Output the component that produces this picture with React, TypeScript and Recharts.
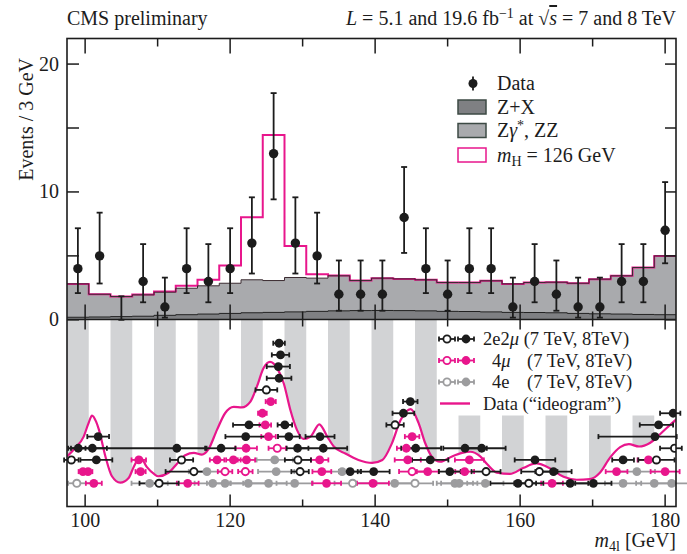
import React from 'react'
import { ComposedChart, Area, Line, Scatter, ErrorBar, XAxis, YAxis } from 'recharts'

// ---------- top panel: 3 GeV bins from 97.5 to 181.5 ----------
const BIN_WIDTH = 3
const binCenters = [99, 102, 105, 108, 111, 114, 117, 120, 123, 126, 129, 132, 135, 138, 141, 144, 147, 150, 153, 156, 159, 162, 165, 168, 171, 174, 177, 180]
const dataCounts = [4, 5, 0, 3, 1, 4, 3, 4, 6, 13, 6, 5, 2, 2, 2, 8, 4, 2, 4, 4, 1, 3, 2, 1, 1, 3, 3, 7]
const dataErrLow = [1.91, 2.16, 0, 1.63, 0.83, 1.91, 1.63, 1.91, 2.38, 3.58, 2.38, 2.16, 1.29, 1.29, 1.29, 2.77, 1.91, 1.29, 1.91, 1.91, 0.83, 1.63, 1.29, 0.83, 0.83, 1.63, 1.63, 2.58]
const dataErrHigh = [3.16, 3.38, 1.84, 2.92, 2.3, 3.16, 2.92, 3.16, 3.58, 4.73, 3.58, 3.38, 2.64, 2.64, 2.64, 3.95, 3.16, 2.64, 3.16, 3.16, 2.3, 2.92, 2.64, 2.3, 2.3, 2.92, 2.92, 3.77]
const zxBkg = [0.2, 0.22, 0.25, 0.28, 0.35, 0.4, 0.45, 0.5, 0.55, 0.58, 0.62, 0.66, 0.7, 0.72, 0.73, 0.72, 0.7, 0.66, 0.65, 0.62, 0.58, 0.57, 0.55, 0.5, 0.47, 0.45, 0.42, 0.4]
const zzBkg = [2.61, 1.78, 1.57, 1.67, 1.81, 2.07, 2.21, 2.36, 2.58, 2.49, 2.69, 2.6, 2.74, 2.35, 2.53, 2.48, 2.43, 2.26, 2.27, 2.43, 2.23, 2.35, 2.39, 2.36, 2.71, 2.99, 3.67, 4.6]
const higgs126 = [0, 0, 0, 0.03, 0.06, 0.19, 0.47, 1.38, 4.89, 11.38, 2.47, 0.31, 0.03, 0.01, 0, 0, 0, 0, 0, 0, 0, 0, 0, 0, 0, 0, 0, 0]

// ---------- bottom panel: ideogram + single events ----------
const ideoMass = [97.5, 98.6, 99.8, 100.5, 100.95, 101.5, 101.9, 102.8, 103.7, 104.85, 106.0, 106.7, 107.6, 108.5, 109.5, 110.1, 111.5, 112.7, 113.8, 115.0, 116.1, 117.0, 118.2, 119.3, 120.5, 121.6, 122.8, 123.7, 124.6, 125.5, 126.5, 127.4, 128.3, 129.2, 130.1, 131.1, 132.3, 133.4, 134.3, 135.9, 137.7, 139.6, 141.0, 142.3, 143.5, 144.9, 146.0, 146.9, 147.8, 149.0, 150.6, 152.0, 153.1, 154.5, 155.5, 156.8, 158.6, 160.4, 162.2, 164.2, 166.0, 167.8, 169.6, 171.0, 172.4, 173.8, 175.0, 176.4, 177.9, 179.3, 180.5, 181.5]
const ideoLevel = [2.3, 3.0, 4.0, 5.2, 5.8, 5.3, 4.6, 2.3, 0.6, 0.05, 0.45, 1.4, 2.25, 1.4, 0.8, 0.6, 0.9, 1.7, 2.4, 2.6, 2.45, 2.9, 4.6, 6.0, 6.55, 6.5, 7.0, 8.3, 9.85, 10.4, 9.85, 8.55, 6.3, 4.6, 3.8, 4.0, 5.05, 4.0, 3.15, 2.55, 2.0, 1.75, 2.0, 3.4, 5.4, 6.35, 5.15, 3.45, 2.3, 1.85, 2.3, 2.6, 2.7, 2.3, 1.6, 0.9, 0.8, 1.3, 1.7, 1.25, 0.55, 0.3, 0.35, 0.9, 2.2, 3.1, 3.35, 3.15, 3.45, 4.2, 4.9, 5.45]

// [mass, row, errLow, errHigh]
const ev2e2mu8TeV = [
  [159.7, 0, 3.8, 2.5], [166.9, 0, 2.5, 2.5], [170.1, 0, 2.5, 2.5],
  [136.55, 1, 1.5, 1.5], [139.8, 1, 2.2, 2.2], [150.3, 1, 1.5, 1.5], [164.6, 1, 2.5, 2.5],
  [101.55, 2, 2.2, 2.2], [147.6, 2, 2.5, 2.5], [162.05, 2, 2.8, 2.8], [174.2, 2, 1.5, 1.5],
  [99.05, 3, 1, 1], [101.0, 3, 2, 2], [112.65, 3, 15, 3.9], [118.75, 3, 2, 2], [129.3, 3, 1.5, 1.5], [132.85, 3, 3.3, 3.3], [145.6, 3, 2, 3.5], [152.4, 3, 3, 3], [154.7, 3, 2.5, 3.3],
  [101.8, 4, 1.5, 1.5], [122.15, 4, 2.8, 2.8], [128.1, 4, 1.5, 1.5], [132.4, 4, 2, 2], [178.6, 4, 7.8, 3],
  [122.6, 5, 2.2, 2.2], [127.55, 5, 1, 1], [179.1, 5, 2.6, 2],
  [143.9, 6, 1.5, 1.5], [181.1, 6, 1.8, 1],
  [144.85, 7, 1, 1],
  [126.75, 9, 1.7, 1.7], [126.65, 10, 1.6, 1.6], [126.95, 11, 1.2, 1.2], [126.75, 12, 0.8, 0.8],
]
const ev2e2mu7TeV = [
  [110.2, 0, 2.7, 2.7], [161.2, 0, 2, 2],
  [115.0, 1, 3.9, 1.5], [129.65, 1, 1.2, 1.2], [155.3, 1, 2, 2], [162.65, 1, 2.5, 2.5],
  [98.1, 2, 1, 1], [113.3, 2, 1.6, 1.6], [129.35, 2, 1.8, 1.8], [178.8, 2, 2.5, 2.5],
  [181.3, 3, 2, 1], [142.75, 5, 1.2, 1.2], [125.0, 8, 1.5, 1.5],
]
const ev4mu8TeV = [
  [101.2, 0, 1.1, 1.1], [114.15, 0, 1.5, 1.5], [133.3, 0, 2, 2], [139.7, 0, 2.2, 2.2], [164.4, 0, 1.5, 1.5],
  [99.7, 1, 0.6, 0.6], [100.4, 1, 0.6, 0.6], [107.65, 1, 0.7, 0.7], [132.65, 1, 1.3, 1.3], [147.25, 1, 1.5, 1.5], [152.35, 1, 1.3, 1.3], [173.3, 1, 1.5, 1.5], [180.0, 1, 2, 2],
  [107.4, 2, 1, 1], [118.2, 2, 1, 1], [120.45, 2, 1, 1], [122.25, 2, 1.2, 1.2], [132.35, 2, 1.2, 1.2], [144.5, 2, 1.8, 1.8], [153.0, 2, 2, 2], [177.7, 2, 1.5, 1.5],
  [122.2, 3, 1.5, 1.5], [144.3, 3, 1.3, 1.3],
  [125.3, 4, 1, 1], [145.1, 4, 1, 1],
  [124.85, 5, 0.8, 0.8], [124.45, 6, 0.6, 0.6], [125.6, 7, 0.7, 0.7],
]
const ev4mu7TeV = [
  [119.3, 1, 1, 1], [122.1, 1, 1, 1], [145.1, 1, 1.8, 1.8], [126.5, 3, 1.2, 1.2],
]
const ev4e8TeV = [
  [108.9, 0, 2.5, 2.5], [117.6, 0, 2.5, 2.5], [119.3, 0, 2.5, 2.5], [122.5, 0, 2.5, 2.5], [125.3, 0, 2.5, 2.5], [128.9, 0, 2.5, 2.5],
  [142.7, 0, 2.5, 2.5], [151.0, 0, 2.5, 2.5], [151.6, 0, 2.5, 2.5], [155.2, 0, 2.5, 2.5], [174.2, 0, 2.5, 2.5], [178.5, 0, 2.5, 2.5], [180.9, 0, 2.5, 2.5],
  [116.8, 1, 2.5, 2.5], [126.35, 1, 2.5, 2.5], [135.45, 1, 2.5, 2.5], [176.1, 1, 2.5, 2.5],
  [126.15, 2, 2.5, 2.5],
]
const ev4e7TeV = [
  [98.85, 0, 1.2, 2.5], [136.9, 0, 2.5, 2.5], [145.5, 0, 2.5, 2.5],
]

// ---------- layout ----------
const W = 687
const H = 554
const PLOT_LEFT = 67
const PLOT_RIGHT = 676
const PLOT_TOP = 38.5
const PLOT_BOTTOM = 506.5
const DIVIDER = 319.5
const X_DOMAIN: [number, number] = [97.5, 181.5]
const EV_DOMAIN: [number, number] = [-14.6, 22]
const ROW_DOMAIN: [number, number] = [-1.99, 38.11]
const ROW_DIVIDER = 14.04
const LEGEND_BOX_BOTTOM = 5.8
const LEGEND_BOX_LEFT = 148.5

const PINK = '#e8168c'
const BLACK = '#1c1c1c'
const GREY = '#9c9c9e'
const FONT = '"Liberation Serif", "DejaVu Serif", serif'
const FS = 20
const LFS = 18.5

const binEdges = [...binCenters.map(c => c - BIN_WIDTH / 2), binCenters[binCenters.length - 1] + BIN_WIDTH / 2]
const histRows = binEdges.map((m, i) => {
  const k = Math.min(i, binCenters.length - 1)
  const bkg = zxBkg[k] + zzBkg[k]
  // grey stripes every other bin; the white legend box cuts them off at the top right
  const stripeTop = m >= LEGEND_BOX_LEFT ? LEGEND_BOX_BOTTOM : ROW_DIVIDER
  return {
    m,
    zx: zxBkg[k],
    bkg,
    total: bkg + higgs126[k],
    stripe: i % 2 === 0 && i < binCenters.length ? stripeTop : ROW_DOMAIN[0],
  }
})
const dataPoints = binCenters.map((m, i) => ({ m, n: dataCounts[i], err: [dataErrLow[i], dataErrHigh[i]] }))
const ideogramRows = ideoMass.map((m, i) => ({ m, level: ideoLevel[i] }))
const toRows = (list: number[][]) => list.map(([m, row, lo, hi]) => ({ m, row, err: [lo, hi] }))

const eventSeries = [
  { name: '4e 8TeV', data: toRows(ev4e8TeV), color: GREY, open: false },
  { name: '4e 7TeV', data: toRows(ev4e7TeV), color: GREY, open: true },
  { name: '4mu 8TeV', data: toRows(ev4mu8TeV), color: PINK, open: false },
  { name: '4mu 7TeV', data: toRows(ev4mu7TeV), color: PINK, open: true },
  { name: '2e2mu 8TeV', data: toRows(ev2e2mu8TeV), color: BLACK, open: false },
  { name: '2e2mu 7TeV', data: toRows(ev2e2mu7TeV), color: BLACK, open: true },
]

const MassTick = ({ x, payload }: any) => {
  const v = payload.value
  const major = v % 20 === 0
  return (
    <g stroke={BLACK} strokeWidth={1.5}>
      <line x1={x} x2={x} y1={PLOT_BOTTOM} y2={PLOT_BOTTOM - (major ? 12 : 7)} />
      <line x1={x} x2={x} y1={DIVIDER - (major ? 15 : 8)} y2={DIVIDER + (major ? 10 : 7)} />
      <line x1={x} x2={x} y1={PLOT_TOP} y2={PLOT_TOP + (major ? 15 : 8)} />
      {major && (
        <text x={x} y={527} textAnchor="middle" stroke="none" fill={BLACK} fontSize={FS} fontFamily={FONT}>
          {v}
        </text>
      )}
    </g>
  )
}

const EventTick = ({ y, payload }: any) => {
  const v = payload.value
  return (
    <g stroke={BLACK} strokeWidth={1.5}>
      <line x1={PLOT_LEFT} x2={PLOT_LEFT + 12} y1={y} y2={y} />
      <line x1={PLOT_RIGHT - 11} x2={PLOT_RIGHT} y1={y} y2={y} />
      {v % 10 === 0 && (
        <text x={59} y={y + 6.5} textAnchor="end" stroke="none" fill={BLACK} fontSize={FS} fontFamily={FONT}>
          {v}
        </text>
      )}
    </g>
  )
}

const DataDot = (props: any) => {
  if (!props.payload || props.payload.n === 0) return <g />
  return <circle cx={props.cx} cy={props.cy} r={4.7} fill={BLACK} />
}

const eventDot = (color: string, open: boolean) => (props: any) =>
  open ? (
    <circle cx={props.cx} cy={props.cy} r={3.6} fill="#fff" stroke={color} strokeWidth={1.9} />
  ) : (
    <circle cx={props.cx} cy={props.cy} r={4.4} fill={color} />
  )

const LegendMarker = ({ x, y, color, open }: { x: number; y: number; color: string; open: boolean }) => (
  <g stroke={color} strokeWidth={1.8}>
    <line x1={x - 8} x2={x + 8} y1={y} y2={y} />
    <line x1={x - 8} x2={x - 8} y1={y - 2.5} y2={y + 2.5} />
    <line x1={x + 8} x2={x + 8} y1={y - 2.5} y2={y + 2.5} />
    {open ? <circle cx={x} cy={y} r={3.6} fill="#fff" /> : <circle cx={x} cy={y} r={4.4} fill={color} stroke="none" />}
  </g>
)

const Overlay = () => (
  <svg width={W} height={H} style={{ position: 'absolute', left: 0, top: 0, pointerEvents: 'none' }} fontFamily={FONT} fill={BLACK}>
    <rect x={PLOT_LEFT} y={PLOT_TOP} width={PLOT_RIGHT - PLOT_LEFT} height={PLOT_BOTTOM - PLOT_TOP} fill="none" stroke={BLACK} strokeWidth={1.6} />
    <line x1={PLOT_LEFT} x2={PLOT_RIGHT} y1={DIVIDER} y2={DIVIDER} stroke={BLACK} strokeWidth={1.6} />

    <text x={PLOT_LEFT} y={25} fontSize={FS}>CMS preliminary</text>
    <text x={PLOT_RIGHT} y={25} fontSize={FS} textAnchor="end">
      <tspan fontStyle="italic">L</tspan> = 5.1 and 19.6 fb
      <tspan dy={-7} fontSize={14}>−1</tspan>
      <tspan dy={7}> at √</tspan>
      <tspan fontStyle="italic" textDecoration="overline">s</tspan> = 7 and 8 TeV
    </text>

    <text transform="rotate(-90)" x={-58} y={33} fontSize={FS} textAnchor="end">Events / 3 GeV</text>
    <text x={PLOT_RIGHT} y={547} fontSize={FS} textAnchor="end">
      <tspan fontStyle="italic">m</tspan>
      <tspan fontSize={14} dy={4}>4l</tspan>
      <tspan dy={-4}> [GeV]</tspan>
    </text>

    {/* top legend */}
    <line x1={473} x2={473} y1={76.5} y2={90.5} stroke={BLACK} strokeWidth={1.8} />
    <circle cx={473} cy={83.5} r={4.5} fill={BLACK} />
    <text x={497} y={90} fontSize={FS}>Data</text>
    <rect x={458} y={100} width={28} height={14} fill="#7f8083" stroke="#3d4a44" strokeWidth={1.5} />
    <text x={497} y={113.5} fontSize={FS}>Z+X</text>
    <rect x={458} y={123.5} width={28} height={14} fill="#a9aaad" stroke="#3d4a44" strokeWidth={1.5} />
    <text x={497} y={137} fontSize={FS}>
      Z<tspan fontStyle="italic">γ</tspan>
      <tspan dy={-7} fontSize={14}>*</tspan>
      <tspan dy={7}>, ZZ</tspan>
    </text>
    <rect x={458} y={148} width={28} height={14} fill="#fff" stroke={PINK} strokeWidth={1.5} />
    <text x={497} y={161.5} fontSize={FS}>
      <tspan fontStyle="italic">m</tspan>
      <tspan fontSize={14} dy={4}>H</tspan>
      <tspan dy={-4}> = 126 GeV</tspan>
    </text>

    {/* bottom legend */}
    <LegendMarker x={447} y={339} color={BLACK} open />
    <LegendMarker x={466} y={339} color={BLACK} open={false} />
    <text x={483} y={345} fontSize={LFS}>2e2<tspan fontStyle="italic">μ</tspan> (7 TeV, 8TeV)</text>
    <LegendMarker x={447} y={360.5} color={PINK} open />
    <LegendMarker x={466} y={360.5} color={PINK} open={false} />
    <text x={492} y={366.5} fontSize={LFS}>4<tspan fontStyle="italic">μ</tspan></text>
    <text x={527} y={366.5} fontSize={LFS}>(7 TeV, 8TeV)</text>
    <LegendMarker x={447} y={382} color={GREY} open />
    <LegendMarker x={466} y={382} color={GREY} open={false} />
    <text x={492} y={388} fontSize={LFS}>4e</text>
    <text x={527} y={388} fontSize={LFS}>(7 TeV, 8TeV)</text>
    <line x1={440} x2={470} y1={403.5} y2={403.5} stroke={PINK} strokeWidth={2.4} />
    <text x={483} y={409.5} fontSize={LFS}>Data (“ideogram”)</text>
  </svg>
)

export default function App() {
  return (
    <div style={{ position: 'absolute', left: 0, top: 0, width: W, height: H, background: '#fff' }}>
      <ComposedChart
        width={W}
        height={H}
        data={histRows}
        margin={{ top: PLOT_TOP, right: W - PLOT_RIGHT, bottom: H - PLOT_BOTTOM - 30, left: PLOT_LEFT - 60 }}
      >
        <XAxis
          dataKey="m"
          type="number"
          domain={X_DOMAIN}
          ticks={[100, 110, 120, 130, 140, 150, 160, 170, 180]}
          interval={0}
          allowDataOverflow
          height={30}
          tickSize={0}
          tickMargin={0}
          axisLine={false}
          tickLine={false}
          tick={<MassTick />}
        />
        <YAxis
          yAxisId="ev"
          dataKey="n"
          type="number"
          domain={EV_DOMAIN}
          ticks={[0, 5, 10, 15, 20]}
          interval={0}
          allowDataOverflow
          width={60}
          tickSize={0}
          tickMargin={0}
          axisLine={false}
          tickLine={false}
          tick={<EventTick />}
        />
        <YAxis yAxisId="rows" dataKey="row" type="number" domain={ROW_DOMAIN} allowDataOverflow hide />

        <Area yAxisId="rows" dataKey="stripe" type="stepAfter" baseValue={ROW_DOMAIN[0]} fill="#d2d3d5" fillOpacity={1} stroke="none" isAnimationActive={false} />
        <Area yAxisId="rows" data={ideogramRows} dataKey="level" type="monotone" baseValue={ROW_DOMAIN[0]} fill="#fff" fillOpacity={1} stroke={PINK} strokeWidth={2.2} isAnimationActive={false} />

        <Area yAxisId="ev" dataKey="bkg" type="stepAfter" baseValue={0} fill="#a9aaad" fillOpacity={1} stroke="none" isAnimationActive={false} />
        <Area yAxisId="ev" dataKey="zx" type="stepAfter" baseValue={0} fill="#7f8083" fillOpacity={1} stroke="#222" strokeWidth={1} isAnimationActive={false} />
        <Line yAxisId="ev" dataKey="total" type="stepAfter" stroke={PINK} strokeWidth={2} dot={false} isAnimationActive={false} />
        <Line yAxisId="ev" dataKey="bkg" type="stepAfter" stroke="#3a2a30" strokeWidth={1} dot={false} isAnimationActive={false} />

        {eventSeries.map(s => (
          <Scatter key={s.name} name={s.name} yAxisId="rows" data={s.data} shape={eventDot(s.color, s.open)} isAnimationActive={false}>
            <ErrorBar dataKey="err" direction="x" width={2.5} stroke={s.color} strokeWidth={1.8} />
          </Scatter>
        ))}

        <Scatter name="Data" yAxisId="ev" data={dataPoints} shape={<DataDot />} isAnimationActive={false}>
          <ErrorBar dataKey="err" direction="y" width={3} stroke={BLACK} strokeWidth={1.8} />
        </Scatter>
      </ComposedChart>
      <Overlay />
    </div>
  )
}
